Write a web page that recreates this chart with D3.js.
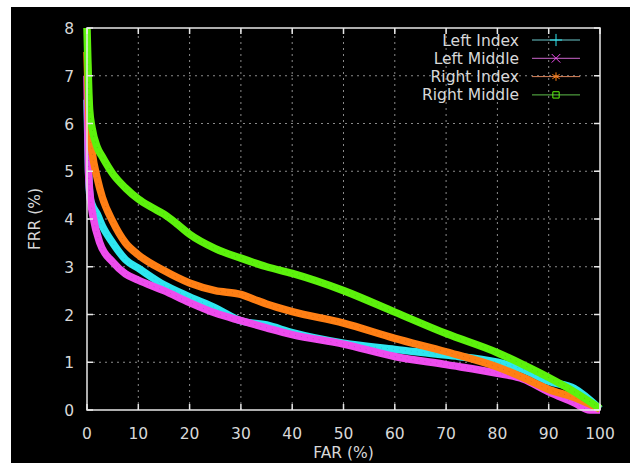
<!DOCTYPE html>
<html>
<head>
<meta charset="utf-8">
<script src="https://cdn.jsdelivr.net/npm/d3@7"></script>
<style>
  body { margin: 0; background: #fff; }
  text { font-family: "DejaVu Sans", sans-serif; fill: #d8d8d8; }
</style>
</head>
<body>
<div id="viz"></div>
<script>
// FAR (%) / FRR (%) for each finger
var liFar = [0, 0.3, 0.6, 1, 2, 3, 5, 7.5, 10, 15, 20, 25, 30, 35, 40, 50, 60, 70, 80, 85, 90, 95, 100];
var liFrr = [6.5, 5.0, 4.45, 4.3, 4.1, 3.85, 3.5, 3.15, 2.97, 2.62, 2.37, 2.14, 1.87, 1.78, 1.62, 1.4, 1.27, 1.15, 1.0, 0.85, 0.6, 0.45, 0.02];

var lmFar = [0, 0.3, 0.7, 1.2, 2.5, 5, 7.5, 10, 15, 20, 25, 30, 35, 40, 50, 60, 70, 80, 85, 90, 95, 98, 100];
var lmFrr = [7.0, 5.0, 4.4, 4.04, 3.5, 3.1, 2.85, 2.72, 2.5, 2.25, 2.03, 1.87, 1.72, 1.58, 1.38, 1.12, 0.95, 0.77, 0.65, 0.38, 0.15, 0.0, 0.0];

var riFar = [0, 0.5, 1, 2, 3, 5, 7.5, 10, 15, 20, 25, 30, 32.5, 35, 40, 50, 60, 70, 80, 85, 90, 95, 100];
var riFrr = [7.5, 5.9, 5.4, 4.85, 4.45, 3.95, 3.5, 3.25, 2.92, 2.66, 2.5, 2.42, 2.32, 2.22, 2.06, 1.82, 1.5, 1.22, 0.9, 0.68, 0.43, 0.26, 0.02];

var rmFar = [0, 0.5, 1, 2, 3, 5, 7.5, 10, 12.5, 15, 17.5, 20, 25, 30, 35, 40, 50, 60, 70, 80, 85, 90, 95, 100];
var rmFrr = [8.0, 6.3, 5.9, 5.5, 5.3, 4.95, 4.65, 4.42, 4.25, 4.1, 3.9, 3.68, 3.38, 3.18, 3.0, 2.86, 2.5, 2.05, 1.6, 1.2, 0.95, 0.68, 0.38, 0.03];

var seriesNames = ["Left Index", "Left Middle", "Right Index", "Right Middle"];
var seriesColors = ["#2ee6f0", "#ee4cee", "#ff7f14", "#5cf20c"];
var legendColors = ["#6cc8cc", "#cc66cc", "#d9835a", "#5fbf4a"];
var xTicks = [0, 10, 20, 30, 40, 50, 60, 70, 80, 90, 100];
var yTicks = [0, 1, 2, 3, 4, 5, 6, 7, 8];

var width = 630, height = 463;
var margin = {top: 28, right: 30, bottom: 53, left: 87};
var fs = "15.5px";

var svg = d3.select("#viz").append("svg")
    .attr("width", width)
    .attr("height", height);

// black canvas, white strip on left/top like the screenshot
svg.append("rect")
    .attr("x", 11).attr("y", 7)
    .attr("width", width - 11).attr("height", height - 7)
    .attr("fill", "#000");

var x = d3.scaleLinear().domain([0, 100]).range([margin.left, width - margin.right]);
var y = d3.scaleLinear().domain([0, 8]).range([height - margin.bottom, margin.top]);

// grid
var grid = svg.append("g").attr("class", "grid");
grid.selectAll("line.gx")
  .data(xTicks.slice(1, -1))
  .enter().append("line")
    .attr("x1", function(d) { return x(d); })
    .attr("x2", function(d) { return x(d); })
    .attr("y1", y(0)).attr("y2", y(8))
    .style("stroke", "#8a8a8a")
    .style("stroke-dasharray", "2,4");
grid.selectAll("line.gy")
  .data(yTicks.slice(1, -1))
  .enter().append("line")
    .attr("y1", function(d) { return y(d); })
    .attr("y2", function(d) { return y(d); })
    .attr("x1", x(0)).attr("x2", x(100))
    .style("stroke", "#8a8a8a")
    .style("stroke-dasharray", "2,4");

// curves
var data = [
  {far: liFar, frr: liFrr},
  {far: lmFar, frr: lmFrr},
  {far: riFar, frr: riFrr},
  {far: rmFar, frr: rmFrr}
];

var line = d3.line()
    .x(function(d) { return x(d[0]); })
    .y(function(d) { return y(d[1]); })
    .curve(d3.curveMonotoneX);

data.forEach(function(s, i) {
  var pts = d3.zip(s.far, s.frr);
  svg.append("path")
      .datum(pts)
      .attr("d", line)
      .style("fill", "none")
      .style("stroke", seriesColors[i])
      .style("stroke-width", 7.5)
      .style("stroke-linejoin", "round");
  // dotted texture of the point markers
  svg.append("path")
      .datum(pts)
      .attr("d", line)
      .style("fill", "none")
      .style("stroke", d3.color(seriesColors[i]).darker(0.6))
      .style("stroke-width", 1)
      .style("stroke-dasharray", "1,5")
      .style("opacity", 0.6);
});

// border + mirrored ticks
var axes = svg.append("g");
axes.append("rect")
    .attr("x", x(0)).attr("y", y(8))
    .attr("width", x(100) - x(0)).attr("height", y(0) - y(8))
    .style("fill", "none")
    .style("stroke", "#e8e8e8")
    .style("stroke-width", 1.5);

var tl = 6;
xTicks.forEach(function(d) {
  axes.append("line").attr("x1", x(d)).attr("x2", x(d)).attr("y1", y(0)).attr("y2", y(0) - tl)
      .style("stroke", "#e8e8e8").style("stroke-width", 1.5);
  axes.append("line").attr("x1", x(d)).attr("x2", x(d)).attr("y1", y(8)).attr("y2", y(8) + tl)
      .style("stroke", "#e8e8e8").style("stroke-width", 1.5);
});
yTicks.forEach(function(d) {
  axes.append("line").attr("x1", x(0)).attr("x2", x(0) + tl).attr("y1", y(d)).attr("y2", y(d))
      .style("stroke", "#e8e8e8").style("stroke-width", 1.5);
  axes.append("line").attr("x1", x(100)).attr("x2", x(100) - tl).attr("y1", y(d)).attr("y2", y(d))
      .style("stroke", "#e8e8e8").style("stroke-width", 1.5);
});

axes.selectAll("text.xt")
  .data(xTicks)
  .enter().append("text")
    .attr("x", function(d) { return x(d); })
    .attr("y", y(0) + 29)
    .attr("text-anchor", "middle")
    .style("font-size", fs)
    .text(function(d) { return d; });

axes.selectAll("text.yt")
  .data(yTicks)
  .enter().append("text")
    .attr("x", x(0) - 13)
    .attr("y", function(d) { return y(d) + 6; })
    .attr("text-anchor", "end")
    .style("font-size", fs)
    .text(function(d) { return d; });

svg.append("text")
    .attr("x", (x(0) + x(100)) / 2)
    .attr("y", 458)
    .attr("text-anchor", "middle")
    .style("font-size", fs)
    .text("FAR (%)");

svg.append("text")
    .attr("transform", "translate(40," + ((y(0) + y(8)) / 2) + ") rotate(-90)")
    .attr("text-anchor", "middle")
    .style("font-size", fs)
    .text("FRR (%)");

// legend
var legend = svg.selectAll("g.legend")
  .data(seriesNames)
  .enter().append("g")
    .attr("class", "legend")
    .attr("transform", function(d, i) { return "translate(0," + (40 + i * 18.3) + ")"; });

legend.append("text")
    .attr("x", 519)
    .attr("y", 5.5)
    .attr("text-anchor", "end")
    .style("font-size", fs)
    .text(function(d) { return d; });

legend.append("line")
    .attr("x1", 532).attr("x2", 580)
    .attr("y1", 0).attr("y2", 0)
    .style("stroke", function(d, i) { return legendColors[i]; })
    .style("stroke-width", 1);

var sym = [d3.symbolPlus, d3.symbolTimes, d3.symbolAsterisk, d3.symbolSquare];
legend.append("path")
    .attr("transform", "translate(556,0)")
    .attr("d", function(d, i) {
      return d3.symbol().type(sym[i]).size(i === 3 ? 40 : 50)();
    })
    .style("fill", "none")
    .style("stroke", function(d, i) { return seriesColors[i]; })
    .style("stroke-width", 1);
</script>
</body>
</html>
